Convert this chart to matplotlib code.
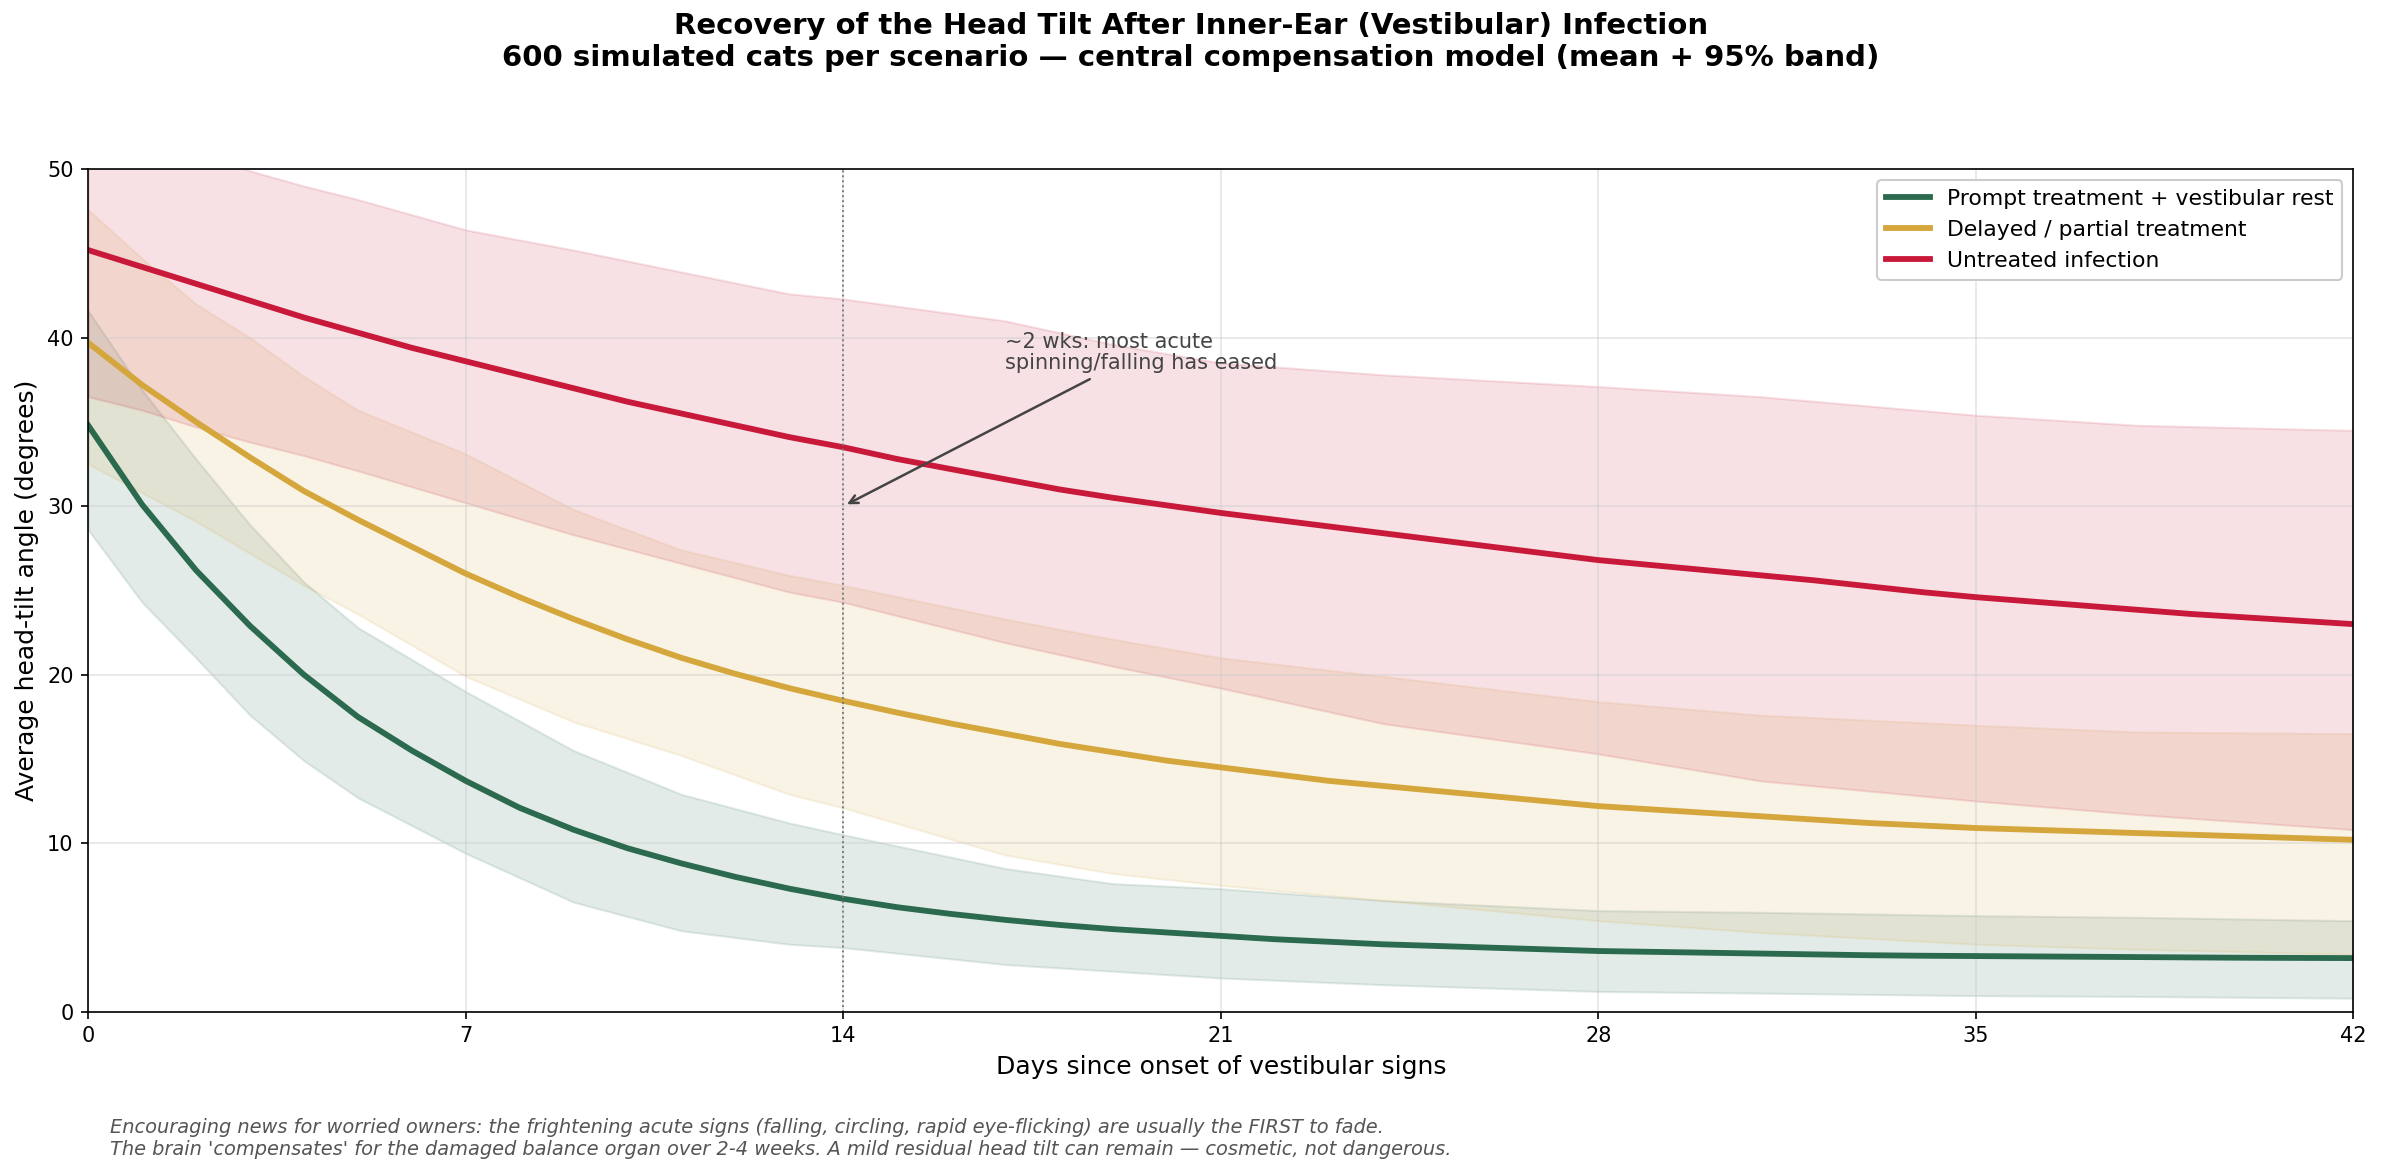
import numpy as np
import matplotlib
matplotlib.use('Agg')
import matplotlib.pyplot as plt

days = list(range(43))

prompt_mean = [34.8, 30.1, 26.2, 22.9, 20.0, 17.5, 15.5, 13.7, 12.1, 10.8,
               9.7, 8.8, 8.0, 7.3, 6.7, 6.2, 5.8, 5.45, 5.15, 4.9,
               4.7, 4.5, 4.3, 4.15, 4.0, 3.9, 3.8, 3.7, 3.6, 3.55,
               3.5, 3.45, 3.4, 3.35, 3.32, 3.3, 3.28, 3.26, 3.24, 3.22,
               3.2, 3.19, 3.18]
delayed_mean = [39.7, 37.2, 35.0, 32.9, 30.9, 29.2, 27.6, 26.0, 24.6, 23.3,
                22.1, 21.0, 20.05, 19.2, 18.45, 17.75, 17.1, 16.5, 15.9, 15.4,
                14.9, 14.5, 14.1, 13.7, 13.4, 13.1, 12.8, 12.5, 12.2, 12.0,
                11.8, 11.6, 11.4, 11.2, 11.05, 10.9, 10.8, 10.7, 10.6, 10.5,
                10.4, 10.3, 10.2]
untreated_mean = [45.2, 44.2, 43.2, 42.2, 41.2, 40.3, 39.4, 38.6, 37.8, 37.0,
                  36.2, 35.5, 34.8, 34.1, 33.5, 32.8, 32.2, 31.6, 31.0, 30.5,
                  30.05, 29.6, 29.2, 28.8, 28.4, 28.0, 27.6, 27.2, 26.8, 26.5,
                  26.2, 25.9, 25.6, 25.25, 24.9, 24.6, 24.35, 24.1, 23.85, 23.6,
                  23.4, 23.2, 23.0]

# 95% bands (read at these days)
band_days = [0, 1, 2, 3, 4, 5, 7, 9, 11, 13, 14, 17, 19, 21, 24, 28, 31, 35, 38, 42]
prompt_hi = [41.6, 36.9, 32.8, 28.9, 25.5, 22.8, 19.0, 15.5, 12.9, 11.2,
             10.5, 8.5, 7.6, 7.3, 6.6, 6.0, 5.9, 5.7, 5.6, 5.4]
prompt_lo = [28.6, 24.3, 21.0, 17.6, 14.9, 12.7, 9.4, 6.5, 4.8, 4.0,
             3.8, 2.8, 2.4, 2.0, 1.6, 1.2, 1.1, 0.95, 0.9, 0.8]
delayed_hi = [47.6, 44.7, 42.0, 40.0, 37.7, 35.7, 33.1, 29.8, 27.4, 25.9,
              25.3, 23.3, 22.1, 21.0, 19.9, 18.4, 17.6, 17.0, 16.6, 16.5]
delayed_lo = [32.5, 30.8, 29.1, 27.2, 25.3, 23.6, 19.9, 17.2, 15.2, 12.9,
              12.1, 9.3, 8.2, 7.5, 6.6, 5.4, 4.7, 4.0, 3.7, 3.4]
untreated_hi = [54.0, 52.5, 51.2, 49.9, 49.0, 48.2, 46.4, 45.2, 43.9, 42.6,
                42.3, 41.0, 39.6, 38.5, 37.8, 37.1, 36.5, 35.4, 34.8, 34.5]
untreated_lo = [36.5, 35.7, 34.7, 33.8, 33.0, 32.1, 30.2, 28.3, 26.6, 24.9,
                24.3, 21.9, 20.5, 19.2, 17.1, 15.3, 13.7, 12.5, 11.7, 10.8]

labels = ['Prompt treatment + vestibular rest', 'Delayed / partial treatment', 'Untreated infection']
colors = ['#2b6a4e', '#d4a63c', '#c8193a']

fig = plt.figure(figsize=(2382 / 150, 1175 / 150), dpi=150)
ax = fig.add_axes([0.037, 0.139, 0.951, 0.717])

means = [prompt_mean, delayed_mean, untreated_mean]
his = [prompt_hi, delayed_hi, untreated_hi]
los = [prompt_lo, delayed_lo, untreated_lo]
for i in range(3):
    ax.fill_between(band_days, los[i], his[i], color=colors[i], alpha=0.13, lw=1)
for i in range(3):
    ax.plot(days, means[i], color=colors[i], lw=2.8, label=labels[i])

ax.axvline(14, color='#777777', lw=0.9, ls=':')
ax.annotate('~2 wks: most acute\nspinning/falling has eased', xy=(14, 30), xytext=(17.0, 37.9),
            fontsize=10, color='#444444', ha='left', va='bottom', linespacing=1.05,
            arrowprops=dict(arrowstyle='->', color='#444444', lw=1.2))

ax.set_xlim(0, 42)
ax.set_ylim(0, 50)
ax.set_xticks([0, 7, 14, 21, 28, 35, 42])
ax.set_yticks([0, 10, 20, 30, 40, 50])
ax.tick_params(labelsize=10)
ax.grid(True, color='#cccccc', alpha=0.5, lw=0.8)
ax.set_xlabel('Days since onset of vestibular signs', fontsize=12)
ax.set_ylabel('Average head-tilt angle (degrees)', fontsize=12)
ax.legend(loc='upper right', fontsize=10.5, framealpha=1.0, edgecolor='#cccccc')

fig.suptitle('Recovery of the Head Tilt After Inner-Ear (Vestibular) Infection\n'
             '600 simulated cats per scenario \u2014 central compensation model (mean + 95% band)',
             fontsize=14, fontweight='bold', y=0.99)

fig.text(0.046, 0.014,
         "Encouraging news for worried owners: the frightening acute signs (falling, circling, rapid eye-flicking) are usually the FIRST to fade.\n"
         "The brain 'compensates' for the damaged balance organ over 2-4 weeks. A mild residual head tilt can remain \u2014 cosmetic, not dangerous.",
         fontsize=9.3, style='italic', color='#555555', ha='left', va='bottom')

fig.savefig('out.png', dpi=150)
